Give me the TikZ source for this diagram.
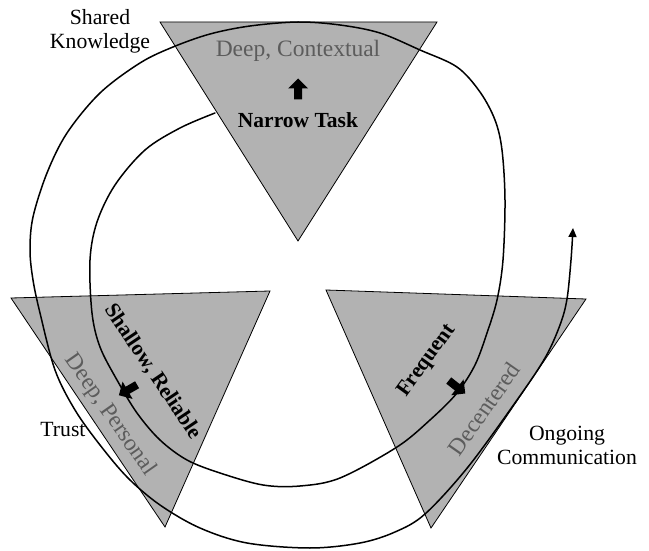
\documentclass[tikz,border=0pt]{standalone}
\usepackage{fontspec}
\setmainfont{Liberation Serif}
\usetikzlibrary{arrows.meta}
\definecolor{panelgray}{gray}{0.70}
\definecolor{softtext}{gray}{0.36}
\tikzset{
  panel/.style={fill=panelgray, draw=black, line width=0.8pt, line join=miter},
  pathline/.style={line width=1.5pt, line join=round, line cap=round},
  graylabel/.style={text=softtext, font=\fontsize{23.5}{26}\selectfont, inner sep=0pt},
  boldlabel/.style={font=\fontsize{21.5}{24}\selectfont\bfseries, inner sep=0pt},
  outlabel/.style={font=\fontsize{21.7}{24}\selectfont, align=center, inner sep=0pt},
  blockarrow/.pic={
    \fill[black] (-10.5,-4) -- (0.5,-4) -- (0.5,-10) -- (10.5,0) -- (0.5,10) -- (0.5,4) -- (-10.5,4) -- cycle;
  },
}
\begin{document}
\begin{tikzpicture}[x=1pt, y=-1pt]
  \useasboundingbox (0,0) rectangle (649,551);

  % three shaded triangles
  \draw[panel] (160,22) -- (437,22) -- (298,241) -- cycle;
  \draw[panel] (11,298) -- (270,291) -- (165,527) -- cycle;
  \draw[panel] (326,290) -- (586,299) -- (431,528) -- cycle;

  % the spiral, from its inner start to the arrow tip
  \coordinate (spiralstart) at (215,113);
  \coordinate (spiralend) at (573,228);
  \draw[pathline, -{Triangle[length=9pt,width=8pt]}] plot[smooth, tension=0.55] coordinates {
    (spiralstart) (180,128) (145,150) (115,185) (97,222) (90,260) (92,313) (100,347)
    (117,380) (137,413) (160,440) (187,460) (220,473) (263,485) (300,486) (340,478)
    (397,447) (430,420) (457,393) (475,365) (487,333) (497,300) (503,260) (505,200)
    (502,150) (495,120) (480,92) (457,67) (420,50) (380,33) (340,25) (298,22)
    (250,26) (210,34) (173,47) (140,63) (100,93) (67,133) (47,173) (33,217)
    (30,250) (33,280) (40,313) (55,370) (75,410) (100,445) (128,478) (160,505)
    (200,528) (247,543) (310,548) (360,543) (395,532) (425,514) (468,467) (517,400)
    (545,358) (560,325) (567,299) (571,260) (spiralend)};

  % top triangle
  \node[graylabel] (contextual) at (298,51) {Deep, Contextual};
  \pic[rotate=90] (uparrow) at (298,89) {blockarrow};
  \node[boldlabel] (narrow) at (298,120) {Narrow Task};

  % left triangle
  \node[boldlabel, rotate=-56] (shallow) at (153,372) {Shallow, Reliable};
  \node[graylabel, rotate=-55] (personal) at (110,415) {Deep, Personal};
  \pic[rotate=210] (leftarrow) at (128,390) {blockarrow};

  % right triangle
  \node[boldlabel, rotate=54] (frequent) at (427,361) {Frequent};
  \node[graylabel, rotate=55] (decentered) at (484,409) {Decentered};
  \pic[rotate=-38] (rightarrow) at (457,387) {blockarrow};

  % outside labels
  \node[outlabel] (knowledge) at (100,31) {Shared\\Knowledge};
  \node[outlabel] (trust) at (63,430) {Trust};
  \node[outlabel] (ongoing) at (567,445) {Ongoing\\Communication};
\end{tikzpicture}
\end{document}
